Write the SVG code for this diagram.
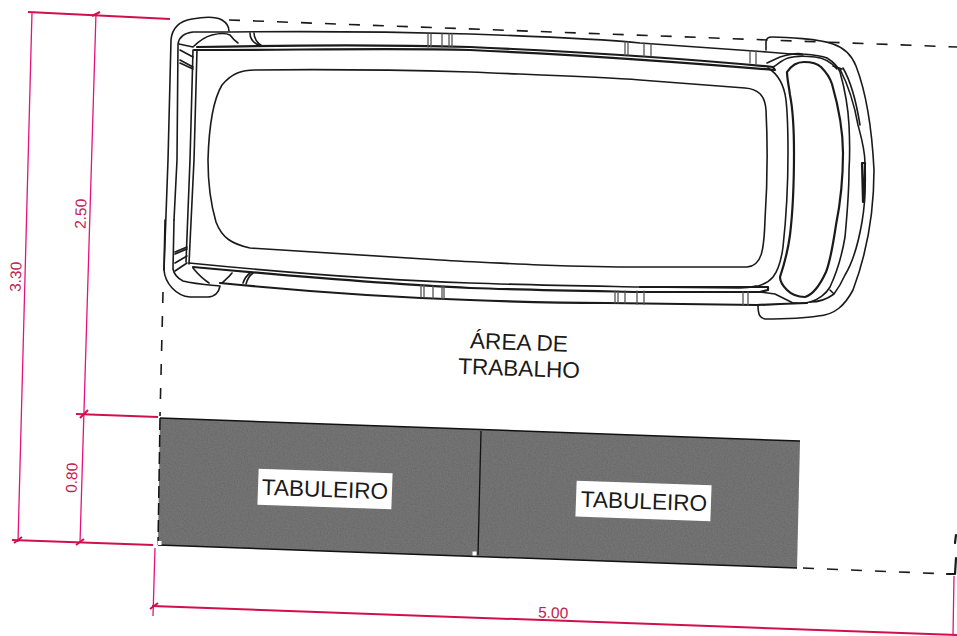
<svg xmlns="http://www.w3.org/2000/svg" width="957" height="636" viewBox="0 0 957 636">
<defs>
<filter id="grain" x="0" y="0" width="100%" height="100%">
<feTurbulence type="fractalNoise" baseFrequency="0.7" numOctaves="2" seed="4" result="n"/>
<feColorMatrix in="n" type="matrix" values="0 0 0 0 0.1  0 0 0 0 0.1  0 0 0 0 0.1  0.9 0 0 0 -0.3" result="c"/>
<feComposite in="c" in2="SourceGraphic" operator="in" result="s"/>
<feMerge><feMergeNode in="SourceGraphic"/><feMergeNode in="s"/></feMerge>
</filter>
</defs>
<style>
.l{fill:none;stroke:#1a1a1a;stroke-width:1.6;stroke-linecap:round;stroke-linejoin:round}
.t{stroke-width:2.2}
.g{stroke:#555;stroke-width:1.3}
.d{fill:none;stroke:#1a1a1a;stroke-width:1.6;stroke-dasharray:11 13}
.p{fill:none;stroke:#e5127c;stroke-width:1.3}
.pt{fill:none;stroke:#d0104a;stroke-width:2}
.dim{font:15.500px "Liberation Sans",Arial,sans-serif;fill:#c0224f}
.lb{font:22.600px "Liberation Sans",Arial,sans-serif;fill:#1a1a1a}
</style>
<rect width="957" height="636" fill="#fff"/>

<g id="area-limit">
<path class="d" d="M229 20L957 47"/>
<path class="d" d="M163 292L160 416"/>
<path class="d" d="M803 568L948 574"/>
<path class="l t" d="M947 574L955 574L956 558M956 535L955 543"/>
</g>

<g id="van">
<path class="l" d="M164 270L168 160L171 40C172 28 180 21 192 19C203 17 215 16 222 20C227 23 229 27 229 31"/>
<path class="l" d="M174 220L177 160L178 44C179 37 184 33 193 32L230 32C320 31 400 32 470 34C560 37 620 41 640 43L767 52L803 55"/>
<path class="l" d="M186 262L190 160L193 50"/>
<path class="l" d="M189 264L194 160L197 50"/>
<path class="l t" d="M194 50C300 50 400 48 470 50C560 54 680 62 775 70L773 67C680 58 560 51 470 47C400 45 300 45 197 47"/>
<path class="l" d="M179 44L193 47C198 42 204 37 212 35C220 33 226 33 230 35C233 39 235 41 238 43"/>
<path class="l" d="M180 50L193 57M180 60L193 67M180 63L193 69"/>
<path class="l" d="M250 33C250 38 253 43 260 46M254 33C254 38 256 42 262 46"/>
<path class="l" d="M208 160C209 125 213 100 222 85C232 73 242 70 255 70C330 69 400 70 470 72C540 75 600 77 640 80L745 88C758 89 765 95 766 110C768 150 767 190 765 220C764 250 762 266 747 267L640 267C600 267 570 266 540 265C500 263 470 262 440 260L250 248C232 244 222 238 216 222C211 205 208 185 208 160Z"/>
<path class="l" d="M189 263C280 272 380 280 470 283C530 285 590 286 640 287L740 288C748 288 752 287 756 286"/>
<path class="l t" d="M193 267C280 275 380 284 470 288C530 290 590 291 640 292L760 292L768 290L768 287L640 287"/>
<path class="l t" d="M220 283C300 291 380 297 470 300C520 302 560 303 607 303L757 305L780 304L807 303"/>
<path class="l" d="M165 220L164 270C165 283 176 296 190 297L208 297C215 297 219 292 220 286C210 285 195 284 183 281C177 278 174 274 173 269L174 220"/>
<path class="l" d="M175 271L187 263M175 263L187 256M175 252L187 247M175 254L187 249M193 268C197 273 203 279 209 283"/>
<path class="l" d="M232 273C229 277 225 280 222 283M250 273C246 276 244 280 243 283M253 273C249 276 247 280 246 284"/>
<path class="l g" d="M428 34V47M431 34V47M442 34V47M449 34V47M452 34V47"/>
<path class="l g" d="M625 42V55M628 42V55M644 43V56M651 44V56"/>
<path class="l g" d="M750 51V63M756 51V64"/>
<path class="l g" d="M421 285V297M424 285V297M433 286V298M442 286V299M444 286V299"/>
<path class="l g" d="M615 291V303M618 291V303M625 291V303M637 291V304M644 291V304"/>
<path class="l g" d="M743 292V305M748 292V305"/>
<path class="l" d="M766 50L766 42C766 38 769 37 772 37C785 37 820 39 833 44C845 48 852 56 856 66C866 92 872 130 874 170C874 210 868 250 853 290C845 305 835 315 818 316C800 319 780 319 765 319C760 318 758 315 758 305"/>
<path class="l t" d="M787 72C791 66 797 62 804 62C811 62 817 63 821 67C826 72 830 78 832 84C838 105 843 130 843 153C843 180 840 205 836 225C833 245 830 262 826 272C820 285 812 295 805 297C797 297 791 294 787 290C782 285 780 280 780 277C784 265 788 250 790 235C793 210 794 180 794 153C794 130 793 110 790 95C789 87 787 78 787 72Z"/>
<path class="l" d="M768 68C778 74 784 84 786 100C788 118 788 135 788 153C788 190 786 220 783 247C781 262 777 272 773 277C768 283 760 286 753 287"/>
<path class="l" d="M767 63L780 57C790 54 797 53 803 54C815 55 822 56 827 58C835 63 838 67 840 72C845 90 848 105 849 125C850 145 850 155 849 170C849 195 847 215 845 237C842 255 837 272 830 287C826 294 818 300 810 302C802 304 798 303 793 303L775 294L760 292"/>
<path class="l" d="M773 67C778 64 782 60 788 58C795 56 805 56 815 57C825 58 832 63 837 69"/>
<path class="l" d="M833 66L842 69M830 290L834 294M840 69C848 85 855 108 858 125C862 140 865 150 865 163C866 190 865 205 862 222C858 245 853 262 845 275C841 284 837 290 834 294C826 300 818 302 810 302"/>
<path class="l" d="M843 68C850 80 856 100 860 125"/>
<path class="l t" d="M862 163L863 202L864 202L865 163L862 163"/>
</g>

<g id="bench">
<polygon points="160,418 800,441 797,568 158,545" fill="#747574" filter="url(#grain)"/>
<path d="M158 545L797 568M160 418L800 441" fill="none" stroke="#111" stroke-width="1.5"/>
<path d="M160 418L158 545" fill="none" stroke="#111" stroke-width="1.5" stroke-dasharray="12 5"/>
<path d="M481 431L478 555" fill="none" stroke="#111" stroke-width="1.3"/>
<rect x="157.500" y="541" width="4" height="4" fill="#fff"/>
<rect x="472.500" y="551.500" width="4" height="4" fill="#fff"/>
</g>
<g id="tabuleiro-1">
<rect x="258" y="471" width="134" height="36" fill="#fff" transform="rotate(2 325 489)"/>
<text class="lb" x="325" y="497" text-anchor="middle" transform="rotate(2 325 489)">TABULEIRO</text>
</g>
<g id="tabuleiro-2">
<rect x="576" y="483" width="135" height="36" fill="#fff" transform="rotate(2 644 501)"/>
<text class="lb" x="644" y="509" text-anchor="middle" transform="rotate(2 644 501)">TABULEIRO</text>
</g>
<g id="area-label">
<text class="lb" x="519" y="350" text-anchor="middle" transform="rotate(2 519 343)">ÁREA DE</text>
<text class="lb" x="519" y="376" text-anchor="middle" transform="rotate(2 519 369)">TRABALHO</text>
</g>

<g id="dimensions">
<path class="pt" d="M28 12L170 19M76 414L158 417M12 540L153 545M152 606L957 635"/>
<path class="p" d="M32 12L18 542M96 13L80 543M155 548L153 616M954 576L953 636"/>
<path class="pt" d="M92 16L100 12M80 418L88 410M14 543L22 537M76 545L84 539M150 609L158 603"/>
<text class="dim" transform="translate(21 277) rotate(-88)" text-anchor="middle">3.30</text>
<text class="dim" transform="translate(86 214) rotate(-88)" text-anchor="middle">2.50</text>
<text class="dim" transform="translate(77 478) rotate(-88)" text-anchor="middle">0.80</text>
<text class="dim" transform="translate(553 618) rotate(2)" text-anchor="middle">5.00</text>
</g>
</svg>
